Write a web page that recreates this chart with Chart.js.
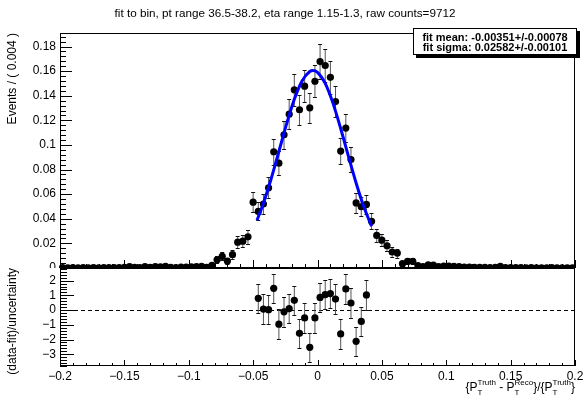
<!DOCTYPE html>
<html>
<head>
<meta charset="utf-8">
<script src="https://cdn.jsdelivr.net/npm/chart.js@4.4.1/dist/chart.umd.min.js"></script>
<style>
  html, body { margin: 0; padding: 0; background: #fff; }
  #wrap { position: relative; width: 583px; height: 401px; overflow: hidden; }
  #top { position: absolute; left: 0; top: 0; }
  #bot { position: absolute; left: 0; top: 268px; }
</style>
</head>
<body>
<div id="wrap">
  <canvas id="top" width="583" height="268"></canvas>
  <canvas id="bot" width="583" height="133"></canvas>
</div>
<script>
// bin centres (bin width 0.004)
const binCenters = [
  -0.198,-0.194,-0.190,-0.186,-0.182,-0.178,-0.174,-0.170,-0.166,-0.162,
  -0.158,-0.154,-0.150,-0.146,-0.142,-0.138,-0.134,-0.130,-0.126,-0.122,
  -0.118,-0.114,-0.110,-0.106,-0.102,-0.098,-0.094,-0.090,-0.086,-0.082,
  -0.078,-0.074,-0.070,-0.066,-0.062,-0.058,-0.054,-0.050,-0.046,-0.042,
  -0.038,-0.034,-0.030,-0.026,-0.022,-0.018,-0.014,-0.010,-0.006,-0.002,
   0.002, 0.006, 0.010, 0.014, 0.018, 0.022, 0.026, 0.030, 0.034, 0.038,
   0.042, 0.046, 0.050, 0.054, 0.058, 0.062, 0.066, 0.070, 0.074, 0.078,
   0.082, 0.086, 0.090, 0.094, 0.098, 0.102, 0.106, 0.110, 0.114, 0.118,
   0.122, 0.126, 0.130, 0.134, 0.138, 0.142, 0.146, 0.150, 0.154, 0.158,
   0.162, 0.166, 0.170, 0.174, 0.178, 0.182, 0.186, 0.190, 0.194, 0.198
];
const events = [
  0.0003,0.0002,0.0003,0.0002,0.0003,0.0002,0.0003,0.0002,0.0004,0.0003,
  0.0003,0.0004,0.0005,0.0012,0.0005,0.0004,0.0012,0.0005,0.0011,0.0009,
  0.0013,0.0005,0.0004,0.0007,0.0008,0.0009,0.0012,0.0014,0.0006,0.0022,
  0.0067,0.0095,0.0057,0.0108,0.0210,0.0218,0.0253,0.0535,0.0460,0.0520,
  0.0652,0.0945,0.0852,0.1083,0.1250,0.1448,0.1286,0.1478,0.1302,0.1518,
  0.1678,0.1646,0.1550,0.1353,0.0950,0.1137,0.0882,0.0529,0.0498,0.0517,
  0.0379,0.0265,0.0226,0.0181,0.0130,0.0121,0.0035,0.0054,0.0054,0.0020,
  0.0012,0.0025,0.0024,0.0012,0.0016,0.0015,0.0013,0.0012,0.0008,0.0007,
  0.0006,0.0005,0.0005,0.0004,0.0006,0.0013,0.0004,0.0003,0.0003,0.0003,
  0.0002,0.0003,0.0002,0.0002,0.0002,0.0003,0.0002,0.0002,0.0002,0.0002
];
const eventErr = [
  0.0006,0.0005,0.0006,0.0005,0.0006,0.0005,0.0006,0.0005,0.0006,0.0006,
  0.0006,0.0006,0.0007,0.0011,0.0007,0.0006,0.0011,0.0007,0.0010,0.0010,
  0.0012,0.0007,0.0006,0.0009,0.0009,0.0010,0.0012,0.0013,0.0008,0.0016,
  0.0028,0.0033,0.0026,0.0035,0.0049,0.0050,0.0054,0.0079,0.0073,0.0078,
  0.0087,0.0105,0.0099,0.0112,0.0120,0.0129,0.0122,0.0131,0.0123,0.0132,
  0.0139,0.0138,0.0134,0.0125,0.0105,0.0115,0.0101,0.0078,0.0076,0.0077,
  0.0066,0.0055,0.0051,0.0046,0.0039,0.0037,0.0020,0.0025,0.0025,0.0015,
  0.0012,0.0017,0.0017,0.0012,0.0014,0.0013,0.0012,0.0012,0.0010,0.0009,
  0.0008,0.0008,0.0008,0.0007,0.0008,0.0012,0.0007,0.0006,0.0006,0.0006,
  0.0005,0.0005,0.0005,0.0005,0.0005,0.0005,0.0005,0.0005,0.0005,0.0005
];

// gaussian fit curve
const fitX = [-0.047,-0.042,-0.036,-0.030,-0.024,-0.018,-0.012,-0.006,-0.0035,0.000,0.006,0.012,0.018,0.024,0.030,0.036,0.042];
const fitY = [0.0388,0.0527,0.0725,0.0947,0.1171,0.1371,0.1520,0.1597,0.1605,0.1590,0.1500,0.1340,0.1134,0.0910,0.0691,0.0497,0.0339];

// pull panel
const residX = [-0.046,-0.042,-0.038,-0.034,-0.030,-0.026,-0.022,-0.018,-0.014,-0.010,-0.006,-0.002,0.002,0.006,0.010,0.014,0.018,0.022,0.026,0.030,0.034,0.038];
const resid  = [0.80,0.07,0.03,1.48,-0.96,-0.12,0.10,0.66,-1.58,-0.53,-2.53,-0.53,0.86,1.05,1.12,0.75,-1.62,1.44,0.48,-2.12,-0.77,1.03];
const residErr = [1,1,1,1,1,1,1,1,1,1,1,1,1,1,1,1,1,1,1,1,1,1];

const titleText = 'fit to bin, pt range 36.5-38.2, eta range 1.15-1.3, raw counts=9712';
const statLines = ['fit mean: -0.00351+/-0.00078', 'fit sigma: 0.02582+/-0.00101'];

const FONT = "'Liberation Sans', Arial, sans-serif";
Chart.defaults.font.family = FONT;
Chart.defaults.color = '#000';

const fmtX = v => String(Math.round(v * 100) / 100).replace('-', '\u2212');
const fmtY = v => String(Math.round(v * 100) / 100).replace('-', '\u2212');

function errorBars(xs, ys, es, cap) {
  return {
    id: 'errorBars',
    beforeDatasetsDraw(chart) {
      const { ctx, scales: { x, y } } = chart;
      ctx.save();
      ctx.lineWidth = 1;
      xs.forEach((xv, i) => {
        const px = x.getPixelForValue(xv);
        const t = Math.round(y.getPixelForValue(ys[i] + es[i])) + 0.5;
        const b = Math.round(y.getPixelForValue(ys[i] - es[i])) + 0.5;
        ctx.strokeStyle = '#555';
        ctx.beginPath(); ctx.moveTo(px, t); ctx.lineTo(px, b); ctx.stroke();
        ctx.strokeStyle = '#111';
        ctx.beginPath();
        ctx.moveTo(px - cap, t); ctx.lineTo(px + cap, t);
        ctx.moveTo(px - cap, b); ctx.lineTo(px + cap, b);
        ctx.stroke();
      });
      ctx.restore();
    }
  };
}

// ROOT style frame with inner ticks
function drawFrame(chart, xt, yt) {
  const { ctx, chartArea: a, scales: { x, y } } = chart;
  ctx.save();
  ctx.strokeStyle = '#000';
  ctx.lineWidth = 1;
  ctx.strokeRect(a.left + 0.5, a.top + 0.5, a.right - a.left - 1, a.bottom - a.top - 1);
  ctx.beginPath();
  for (let k = xt.from; k <= xt.to; k++) {
    const px = Math.round(x.getPixelForValue(k * xt.step)) + 0.5;
    const len = k % xt.every === 0 ? xt.major : xt.minor;
    ctx.moveTo(px, a.bottom); ctx.lineTo(px, a.bottom - len);
  }
  for (let k = yt.from; k <= yt.to; k++) {
    const py = Math.round(y.getPixelForValue(k * yt.step)) + 0.5;
    const len = k % yt.every === 0 ? yt.major : yt.minor;
    ctx.moveTo(a.left, py); ctx.lineTo(a.left + len, py);
  }
  ctx.stroke();
  ctx.restore();
}

const yTitle = text => ({
  display: true, text: text, align: 'end', color: '#000',
  font: { size: 12, family: FONT }, padding: { top: 5, bottom: 0 }
});
const fixY = s => { s.width = 60; s.paddingTop = 0; s.paddingBottom = 0; };

// ---- upper panel
new Chart(document.getElementById('top'), {
  data: {
    datasets: [
      {
        type: 'line', order: 0,
        data: fitX.map((v, i) => ({ x: v, y: fitY[i] })),
        borderColor: '#0000ff', borderWidth: 3, pointRadius: 0,
        cubicInterpolationMode: 'monotone', fill: false
      },
      {
        type: 'scatter', order: 1, clip: false,
        data: binCenters.map((v, i) => ({ x: v, y: events[i] })),
        pointRadius: 3.6, pointBackgroundColor: '#000', pointBorderWidth: 0
      }
    ]
  },
  options: {
    responsive: false, animation: false,
    layout: { autoPadding: false, padding: { top: 33, right: 8, bottom: 0, left: 0 } },
    plugins: { legend: { display: false }, tooltip: { enabled: false } },
    scales: {
      x: { type: 'linear', min: -0.2, max: 0.2, display: false },
      y: {
        min: 0, max: 0.191,
        afterFit: fixY,
        grid: { display: false, drawTicks: false }, border: { display: false },
        ticks: { stepSize: 0.02, includeBounds: false, autoSkip: false, padding: 4, font: { size: 12 }, callback: fmtY },
        title: yTitle('Events / ( 0.004 )')
      }
    }
  },
  plugins: [
    errorBars(binCenters, events, eventErr, 2),
    {
      id: 'frameTop',
      afterDatasetsDraw(chart) {
        drawFrame(chart,
          { from: -20, to: 20, step: 0.01, every: 5, major: 8, minor: 4 },
          { from: 0, to: 47, step: 0.004, every: 5, major: 12, minor: 6 });
      },
      afterDraw(chart) {
        const ctx = chart.ctx;
        ctx.save();
        ctx.fillStyle = '#000';
        ctx.font = '11.7px ' + FONT;
        ctx.textAlign = 'center';
        ctx.textBaseline = 'middle';
        ctx.fillText(titleText, 285, 14);
        // stats box
        ctx.fillRect(416, 31, 164, 27);
        ctx.fillStyle = '#fff';
        ctx.fillRect(413, 28, 164, 27);
        ctx.strokeStyle = '#000';
        ctx.lineWidth = 1;
        ctx.strokeRect(413.5, 28.5, 163, 26);
        ctx.fillStyle = '#000';
        ctx.font = 'bold 11px ' + FONT;
        ctx.fillText(statLines[0], 495, 37.5);
        ctx.fillText(statLines[1], 495, 48);
        ctx.restore();
      }
    }
  ]
});

// ---- lower panel (pulls)
new Chart(document.getElementById('bot'), {
  type: 'scatter',
  data: {
    datasets: [{
      clip: false,
      data: residX.map((v, i) => ({ x: v, y: resid[i] })),
      pointRadius: 3.6, pointBackgroundColor: '#000', pointBorderWidth: 0
    }]
  },
  options: {
    responsive: false, animation: false,
    layout: { autoPadding: false, padding: { top: 0, right: 8, bottom: 0, left: 0 } },
    plugins: { legend: { display: false }, tooltip: { enabled: false } },
    scales: {
      x: {
        type: 'linear', min: -0.2, max: 0.2,
        afterFit(s) { s.height = 35; s.paddingLeft = 0; s.paddingRight = 0; },
        grid: { display: false, drawTicks: false }, border: { display: false },
        ticks: { stepSize: 0.05, autoSkip: false, maxRotation: 0, padding: 3, font: { size: 12 }, callback: fmtX }
      },
      y: {
        min: -3.8, max: 2.86,
        afterFit: fixY,
        grid: { display: false, drawTicks: false }, border: { display: false },
        ticks: { stepSize: 1, includeBounds: false, autoSkip: false, padding: 4, font: { size: 12 }, callback: fmtY },
        title: yTitle('(data-fit)/uncertainty')
      }
    }
  },
  plugins: [
    {
      id: 'zeroLine',
      beforeDatasetsDraw(chart) {
        const { ctx, chartArea: a, scales: { y } } = chart;
        const py = Math.round(y.getPixelForValue(0)) + 0.5;
        ctx.save();
        ctx.strokeStyle = '#000';
        ctx.lineWidth = 1;
        ctx.setLineDash([4, 3]);
        ctx.beginPath(); ctx.moveTo(a.left, py); ctx.lineTo(a.right, py); ctx.stroke();
        ctx.restore();
      }
    },
    errorBars(residX, resid, residErr, 2),
    {
      id: 'frameBot',
      afterDatasetsDraw(chart) {
        drawFrame(chart,
          { from: -20, to: 20, step: 0.01, every: 5, major: 6, minor: 3 },
          { from: -19, to: 14, step: 0.2, every: 5, major: 14, minor: 7 });
      },
      afterDraw(chart) {
        // x axis title {P_T^Truth - P_T^Reco}/{P_T^Truth}
        const { ctx, chartArea: a } = chart;
        const parts = [['{P', 'Truth', 'T'], [' - P', 'Reco', 'T'], ['}/{P', 'Truth', 'T'], ['}', '', '']];
        const big = '12px ' + FONT, small = '8px ' + FONT;
        ctx.save();
        let total = 0;
        parts.forEach(p => {
          ctx.font = big; total += ctx.measureText(p[0]).width;
          ctx.font = small; total += Math.max(ctx.measureText(p[1]).width, ctx.measureText(p[2]).width);
        });
        let cx = a.right - total;
        const base = 123;
        ctx.fillStyle = '#000';
        ctx.textBaseline = 'alphabetic';
        ctx.textAlign = 'left';
        parts.forEach(p => {
          ctx.font = big; ctx.fillText(p[0], cx, base); cx += ctx.measureText(p[0]).width;
          ctx.font = small;
          ctx.fillText(p[1], cx, base - 6);
          ctx.fillText(p[2], cx, base + 4);
          cx += Math.max(ctx.measureText(p[1]).width, ctx.measureText(p[2]).width);
        });
        ctx.restore();
      }
    }
  ]
});
</script>
</body>
</html>
